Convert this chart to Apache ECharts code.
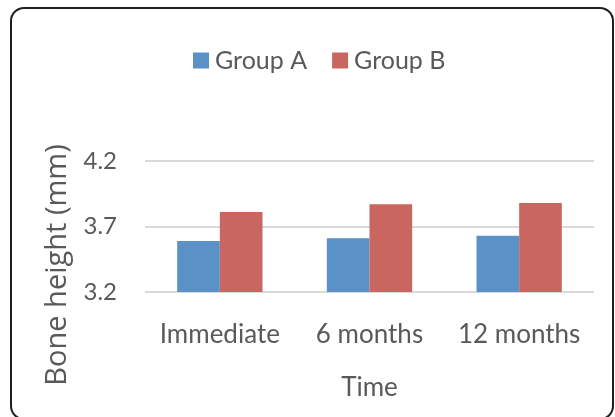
<!DOCTYPE html>
<html>
<head>
<meta charset="utf-8">
<script src="https://cdn.jsdelivr.net/npm/echarts@6/dist/echarts.min.js"></script>
<style>
html,body{margin:0;padding:0;background:#fff;}
#chart{width:615px;height:417px;}
</style>
</head>
<body>
<div id="chart"></div>
<script>
const categories = ['Immediate', '6 months', '12 months'];
const groupA = [3.59, 3.61, 3.63];
const groupB = [3.81, 3.87, 3.88];
const seriesNames = ['Group A', 'Group B'];
const yTicks = { min: 3.2, max: 4.2, interval: 0.5 };
const xAxisTitle = 'Time';
const yAxisTitle = 'Bone height (mm)';

const textColor = '#595959';
const chart = echarts.init(document.getElementById('chart'), null, { renderer: 'canvas' });
chart.setOption({
  animation: false,
  backgroundColor: '#fff',
  color: ['#5A92C7', '#C8665F'],
  graphic: [{
    type: 'rect',
    shape: { x: 11, y: 8, width: 602, height: 411, r: 13 },
    style: { fill: 'none', stroke: '#1f1f1f', lineWidth: 2 },
    silent: true, z: 100
  }],
  legend: {
    top: 48,
    left: 193,
    padding: 0,
    itemWidth: 16,
    itemHeight: 16,
    itemGap: 25,
    icon: 'rect',
    textStyle: { fontFamily: 'Lato', fontSize: 25, color: textColor, padding: [0, 0, 0, 1] },
    data: seriesNames
  },
  grid: { left: 145, right: 21, top: 161, bottom: 125, containLabel: false },
  xAxis: {
    type: 'category',
    data: categories,
    axisLine: { show: false },
    axisTick: { show: false },
    axisLabel: { interval: 0, fontFamily: 'Lato', fontSize: 26, color: textColor, margin: 30 },
    name: xAxisTitle,
    nameLocation: 'middle',
    nameGap: 83,
    nameTextStyle: { fontFamily: 'Lato', fontSize: 26, color: textColor }
  },
  yAxis: {
    type: 'value',
    min: yTicks.min,
    max: yTicks.max,
    interval: yTicks.interval,
    axisLine: { show: false },
    axisTick: { show: false },
    splitLine: { lineStyle: { color: '#D9D9D9', width: 2 } },
    axisLabel: { fontFamily: 'Lato', fontSize: 24, color: textColor, margin: 28,
      formatter: v => v.toFixed(1) },
    name: yAxisTitle,
    nameLocation: 'middle',
    nameGap: 72,
    nameTextStyle: { fontFamily: 'Open Sans', fontSize: 29, color: textColor, padding: [0, 77, 0, 0] }
  },
  series: [
    { name: seriesNames[0], type: 'bar', data: groupA, barGap: '0%', barCategoryGap: '43%' },
    { name: seriesNames[1], type: 'bar', data: groupB, barGap: '0%', barCategoryGap: '43%' }
  ]
});
</script>
</body>
</html>
